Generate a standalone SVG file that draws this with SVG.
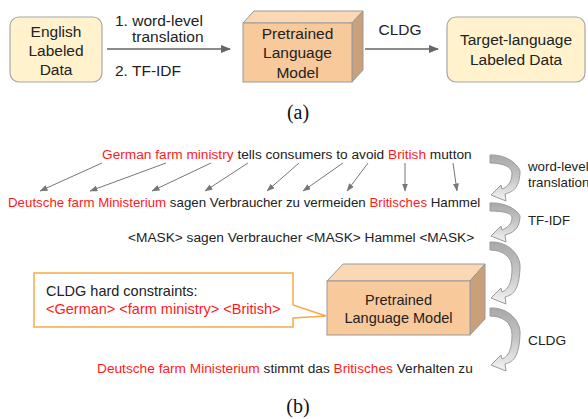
<svg xmlns="http://www.w3.org/2000/svg" width="588" height="419" viewBox="0 0 588 419">
<style>
.t{font-family:"Liberation Sans",Arial,sans-serif;fill:#222}
.a{font-size:15.5px}
.b{font-size:13.7px}
.b2{font-size:13.3px}
.c{font-size:14.5px}
.r{fill:#ff1a1a}
.s{font-family:"Liberation Serif","Times New Roman",serif;font-size:20px;fill:#111}
.box{fill:#fff2cc;stroke:#a6a6a6;stroke-width:1.2}
.front{fill:#f8c99b;stroke:#999;stroke-width:1}
.top{fill:#fad8b4;stroke:#999;stroke-width:1}
.side{fill:#c9a07a;stroke:#999;stroke-width:1}
.ln{stroke:#666;stroke-width:1.5;fill:none}
.ln2{stroke:#777;stroke-width:1;fill:none}
.curl{fill:url(#g);stroke:#9a9a9a;stroke-width:1}
</style>
<defs>
<marker id="m1" markerWidth="10" markerHeight="8" refX="9" refY="4" orient="auto" markerUnits="userSpaceOnUse">
<path d="M0,0 L10,4 L0,8 Z" fill="#666"/>
</marker>
<marker id="m2" markerWidth="8" markerHeight="6" refX="7.5" refY="3" orient="auto" markerUnits="userSpaceOnUse">
<path d="M0,0 L8,3 L0,6 Z" fill="#777"/>
</marker>
<linearGradient id="g" x1="0" y1="0" x2="0" y2="1">
<stop offset="0" stop-color="#a8a8a8"/>
<stop offset="0.5" stop-color="#c6c6c6"/>
<stop offset="1" stop-color="#f4f4f4"/>
</linearGradient>
</defs>

<g id="connectors">
<line class="ln" x1="107" y1="49" x2="230" y2="49" marker-end="url(#m1)"/>
<line class="ln" x1="365" y1="49" x2="438" y2="49" marker-end="url(#m1)"/>
<line class="ln2" x1="102" y1="163" x2="40" y2="191" marker-end="url(#m2)"/>
<line class="ln2" x1="166" y1="163" x2="90" y2="191" marker-end="url(#m2)"/>
<line class="ln2" x1="211" y1="163" x2="152" y2="191" marker-end="url(#m2)"/>
<line class="ln2" x1="248" y1="163" x2="205" y2="191" marker-end="url(#m2)"/>
<line class="ln2" x1="299" y1="163" x2="267" y2="191" marker-end="url(#m2)"/>
<line class="ln2" x1="343" y1="163" x2="303" y2="191" marker-end="url(#m2)"/>
<line class="ln2" x1="368" y1="163" x2="347" y2="191" marker-end="url(#m2)"/>
<line class="ln2" x1="405" y1="163" x2="405" y2="191" marker-end="url(#m2)"/>
<line class="ln2" x1="453" y1="163" x2="457" y2="191" marker-end="url(#m2)"/>
<path class="curl" d="M490,155 C508,154 521,167 520,173 C519,189 512,192 505,194 L506,201 L491,195 L501,185 L502,189 C507,187 512,183 512,173 C512,167 503,163 490,163 Z"/>
<path class="curl" d="M490,203 C508,202 521,213 520,217.5 C519,230 512,233 505,235 L506,242 L491,236 L501,226 L502,230 C507,228 512,224 512,217.5 C512,213 503,211 490,211 Z"/>
<path class="curl" d="M490,242 C508,241 521,255 520,268 C519,292 512,295 505,297 L506,304 L491,298 L501,288 L502,292 C507,290 512,285 512,268 C512,257 503,250 490,250 Z"/>
<path class="curl" d="M490,308 C508,307 521,321 520,334.5 C519,359 512,362 505,364 L506,371 L491,365 L501,355 L502,359 C507,357 512,352 512,334.5 C512,323 503,316 490,316 Z"/>
</g>

<g id="english-data">
<rect class="box" x="10" y="17" width="92" height="65" rx="9"/>
<text class="t a" x="56" y="36.5" text-anchor="middle">English</text>
<text class="t a" x="56" y="56" text-anchor="middle">Labeled</text>
<text class="t a" x="56" y="75" text-anchor="middle">Data</text>
</g>

<g id="label-translation">
<text class="t a" x="115" y="26">1. word-level</text>
<text class="t a" x="132" y="42">translation</text>
<text class="t a" x="115" y="76">2. TF-IDF</text>
</g>

<g id="plm-a">
<polygon class="top" points="243,23 254,11 363,11 352,23"/>
<polygon class="side" points="352,23 363,11 363,70 352,82"/>
<rect class="front" x="243" y="23" width="109" height="59"/>
<text class="t a" x="297.5" y="38.5" text-anchor="middle">Pretrained</text>
<text class="t a" x="297.5" y="58" text-anchor="middle">Language</text>
<text class="t a" x="297.5" y="77.5" text-anchor="middle">Model</text>
</g>

<g id="label-cldg-a">
<text class="t a" x="400" y="34.5" text-anchor="middle">CLDG</text>
</g>

<g id="target-data">
<rect class="box" x="447" y="17" width="138" height="65" rx="9"/>
<text class="t a" x="516" y="45" text-anchor="middle">Target-language</text>
<text class="t a" x="516" y="64.5" text-anchor="middle">Labeled Data</text>
</g>

<text class="s" x="298" y="119" text-anchor="middle">(a)</text>

<g id="sentence-en">
<text class="t b" x="102" y="158.5"><tspan class="r">German farm ministry</tspan> tells consumers to avoid <tspan class="r">British</tspan> mutton</text>
</g>
<g id="sentence-de">
<text class="t b2" x="8" y="206.5"><tspan class="r">Deutsche farm Ministerium</tspan> sagen Verbraucher zu vermeiden <tspan class="r">Britisches</tspan> Hammel</text>
</g>
<g id="sentence-mask">
<text class="t b" x="128" y="241.5">&lt;MASK&gt; sagen Verbraucher &lt;MASK&gt; Hammel &lt;MASK&gt;</text>
</g>

<g id="curl-labels">
<text class="t b2" x="528" y="171">word-level</text>
<text class="t b2" x="528" y="187">translation</text>
<text class="t b2" x="528" y="224.5">TF-IDF</text>
<text class="t b" x="528" y="345">CLDG</text>
</g>

<g id="constraints">
<path d="M34,273 H293 V305 L326,316 L293,318 V327 H34 Z" fill="#fff" stroke="#f7a94b" stroke-width="1.5"/>
<text class="t c" x="46" y="295.5">CLDG hard constraints:</text>
<text class="t c r" x="46" y="314">&lt;German&gt; &lt;farm ministry&gt; &lt;British&gt;</text>
</g>

<g id="plm-b">
<polygon class="top" points="327,281 343,264 485,264 470,281"/>
<polygon class="side" points="470,281 485,264 485,319 470,335"/>
<rect class="front" x="327" y="281" width="143" height="54"/>
<text class="t c" x="398.5" y="304.5" text-anchor="middle">Pretrained</text>
<text class="t c" x="398.5" y="322.5" text-anchor="middle">Language Model</text>
</g>

<g id="sentence-out">
<text class="t b" x="97" y="373"><tspan class="r">Deutsche farm Ministerium</tspan> stimmt das <tspan class="r">Britisches</tspan> Verhalten zu</text>
</g>

<text class="s" x="298" y="413" text-anchor="middle">(b)</text>
</svg>
